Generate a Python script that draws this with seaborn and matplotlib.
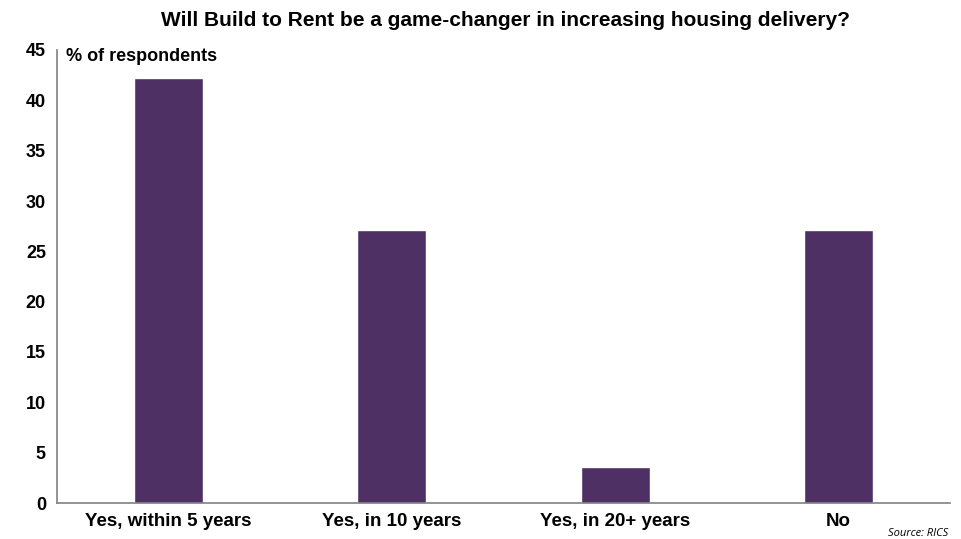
import matplotlib
matplotlib.use("Agg")
import matplotlib.pyplot as plt
import seaborn as sns
import pandas as pd

categories = ["Yes, within 5 years", "Yes, in 10 years", "Yes, in 20+ years", "No"]
values = [42.2, 27.1, 3.6, 27.1]
yticks = [0, 5, 10, 15, 20, 25, 30, 35, 40, 45]

sns.set_theme(style="white")
plt.rcParams["font.family"] = ["Liberation Sans", "DejaVu Sans"]
plt.rcParams["text.color"] = "black"

df = pd.DataFrame({"answer": categories, "share": values})

fig = plt.figure(figsize=(9.62, 5.39), dpi=100)
ax = fig.add_axes([57 / 962, 1 - 503 / 539, (950 - 57) / 962, (503 - 50) / 539])

sns.barplot(data=df, x="answer", y="share", color="#4E3065", saturation=1,
            width=0.31, ax=ax)

ax.set_ylim(0, 45)
ax.set_xlim(-0.5, 3.5)
ax.set_yticks(yticks)
ax.set_yticklabels([str(t) for t in yticks], fontsize=13, fontweight="bold")
ax.set_xticks(range(len(categories)))
ax.set_xticklabels(categories, fontsize=13.5, fontweight="bold")
ax.set_xlabel("")
ax.set_ylabel("")
ax.tick_params(axis="y", length=0, pad=8, colors="black")
ax.tick_params(axis="x", length=0, pad=7, colors="black")

for side in ("top", "right"):
    ax.spines[side].set_visible(False)
for side in ("left", "bottom"):
    ax.spines[side].set_color("#808080")
    ax.spines[side].set_linewidth(1.2)

ax.text(0.01, 0.985, "% of respondents", transform=ax.transAxes, ha="left",
        va="center", fontsize=13, fontweight="bold", color="black")

fig.text(506 / 962, 1 - 21 / 539, "Will Build to Rent be a game-changer in increasing housing delivery?",
         ha="center", va="center", fontsize=15, fontweight="bold", color="black")

fig.text(888 / 962, 1 - 534 / 539, "Source: RICS", ha="left", va="center",
         fontsize=8, style="italic", color="black",
         family=["Open Sans", "DejaVu Sans"])

fig.savefig("out.png", dpi=100)
